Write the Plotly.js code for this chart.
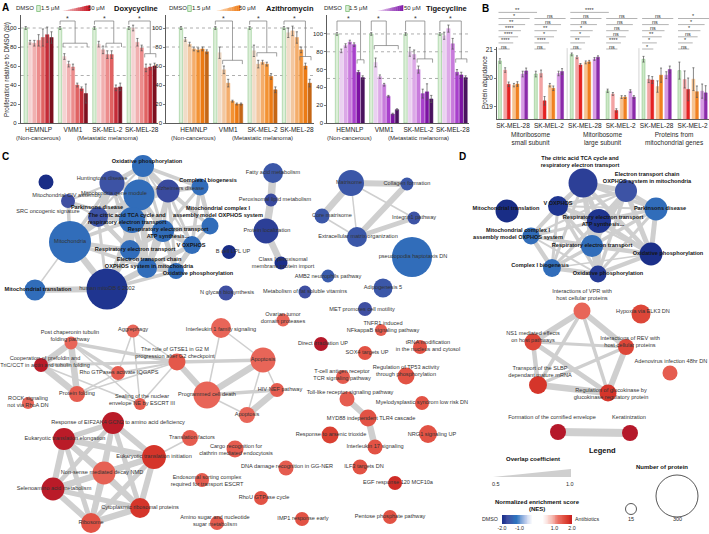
<!DOCTYPE html>
<html>
<head>
<meta charset="utf-8">
<script src="https://cdn.plot.ly/plotly-3.0.1.min.js"></script>
<style>html,body{margin:0;padding:0;background:#fff;}#fig{width:709px;height:534px;}</style>
</head>
<body>
<div id="fig"></div>
<script>
// ================= DATA : panel A =================
const cellLines = ['HEMNLP', 'VMM1', 'SK-MEL-2', 'SK-MEL-28'];
const cellLineGroups = ['(Non-cancerous)', '(Metastatic melanoma)'];
const antibiotics = ['Doxycycline', 'Azithromycin', 'Tigecycline'];
const doseLabels = ['DMSO', '1.5 μM', '50 μM'];
const doxycycline = [[100,85,84,87,90,93,90],[100,70,62,59,40,36,31],[100,83,77,72,72,37,38],[100,100,85,79,58,59,60]];
const doxycyclineErr = [[1.5,2,3,6,9,8,6],[1.5,3,3,3,2,2,10],[1.5,3,4,4,4,3,4],[1.5,3,4,3,4,3,3]];
const azithromycin = [[100,88,83,78,77,78,75],[100,74,56,42,23,20,20],[100,76,62,64,62,49,35],[100,95,97,90,77,60,42]];
const azithromycinErr = [[1.5,2,2,2,2,2,2],[1.5,6,4,4,1,1,1],[1.5,6,4,2,2,3,3],[1.5,5,5,6,3,3,4]];
const tigecycline = [[100,81,87,91,88,57,51],[100,68,52,43,30,10,15],[100,80,77,60,33,35,27],[100,98,106,89,57,54,51]];
const tigecyclineErr = [[1.5,2,2,2,2,2,2],[1.5,5,2,1.5,1,1,1],[1.5,5,5,4,5,9,4],[1.5,4,4,6,3,3,2]];
// significance brackets: [cell line, first bar, last bar, lower bracket level]
const doxycyclineSig = [[1,1,6,84],[2,3,6,84],[3,4,6,73]];
const azithromycinSig = [[1,2,6,66],[2,2,6,74],[3,4,6,70]];
const tigecyclineSig = [[0,5,6,71],[1,1,6,87],[2,3,6,72],[3,4,6,72]];

// ================= DATA : panel B =================
const bCellLines = ['SK-MEL-28','SK-MEL-2','SK-MEL-28','SK-MEL-2','SK-MEL-28','SK-MEL-2'];
const bCategories = ['Mitoribosome<br>small subunit','Mitoribosome<br>large subunit','Proteins from<br>mitochondrial genes'];
const bTreatments = ['DMSO','Doxycycline 1.5 μM','Doxycycline 50 μM','Azithromycin 1.5 μM','Azithromycin 50 μM','Tigecycline 1.5 μM','Tigecycline 50 μM'];
const bAbundance = [[20.6,20.28,19.78,19.75,19.79,20.14,20.25],[20.14,20.16,19.2,19.75,19.64,20.16,20.23],[20.83,20.73,20.46,20.55,20.57,20.67,20.73],[19.55,19.44,18.86,19.33,19.33,19.54,19.33],[20.66,19.96,19.93,19.7,20.1,20.1,20.3],[20.26,19.95,19.6,19.96,19.52,19.54,19.48]];
const bAbundanceErr = [[0.08,0.08,0.08,0.06,0.08,0.1,0.1],[0.1,0.12,0.15,0.06,0.08,0.08,0.1],[0.05,0.05,0.05,0.05,0.05,0.05,0.05],[0.06,0.05,0.06,0.05,0.05,0.05,0.05],[0.1,0.12,0.12,0.2,0.25,0.12,0.12],[0.3,0.3,0.4,0.4,0.2,0.25,0.25]];
const bSignif = [['ns','****','****','****','**','*','**'],['ns','****','*','**','ns','ns'],['ns','**','*','*','ns','ns','****'],['ns','****','ns','ns','ns','ns'],['*','*','**','ns','ns','ns'],['ns','*','ns','*','*','*']];

// ================= DATA : panel C network =================
const cNames = ['Oxidative phosphorylation','Huntingtons disease','Mitochondria gene module','Alzheimers disease','Complex I biogenesis','SRC oncogenic signature','Mitochondrial CIV assembly','Parkinsons disease','The citric acid TCA cycle and<br>respiratory electron transport','Mitochondrial complex I<br>assembly model OXPHOS system','Respiratory electron transport<br>ATP synthesis...','Mitochondria','V OXPHOS','Respiratory electron transport','Electron transport chain<br>OXPHOS system in mitochondria','Oxidative phosphorylation','Mitochondrial translation','human mitoDB 6 2002','Fatty acid metabolism','Peroxisomal lipid metabolism','Protein localization','B cell LPL UP','Class I peroxisomal<br>membrane protein import','N glycan biosynthesis','Metabolism of fat soluble vitamins','AMB2 neutrophils pathway','Matrisome','Core matrisome','Extracellular matrix organization','Collagen formation','Integrin1 pathway','pseudopodia haptotaxis DN','Adipogenesis 5','MET promotes cell motility','Ovarian tumor<br>domain proteases','TNFR1 induced<br>NFkappaB signaling pathway','Post chaperonin tubulin<br>folding pathway','Aggrephagy','Interleukin 1 family signaling','Cooperation of prefoldin and<br>TriC/CCT in actin and tubulin folding','The role of GTSE1 in G2 M<br>progression after G2 checkpoint','Apoptosis','Rho GTPases activate IQGAPS','Protein folding','ROCK signaling<br>not via RhoA DN','Sealing of the nuclear<br>envelope NE by ESCRT III','Programmed cell death','HIV NEF pathway','Apoptosis','Direct irradiation UP','Response of EIF2AK4 GCN2 to amino acid deficiency','Eukaryotic translation elongation','Translation factors','Eukaryotic translation initiation','Cargo recognition for<br>clathrin mediated endocytosis','Non-sense mediated decay NMD','DNA damage recognition in GG-NER','Selenoamino acid metabolism','Endosomal sorting complex<br>required for transport ESCRT','RhoU GTPase cycle','Cytoplasmic ribosomal proteins','Ribosome','Amino sugar and nucleotide<br>sugar metabolism','IMP1 response early','SOX4 targets UP','T-cell antigen receptor<br>TCR signaling pathway','Toll-like receptor signaling pathway','MYD88 independent TLR4 cascade','Response to arsenic trioxide','Interleukin 17 signaling','ILF3 targets DN','EGF response 120 MCF10a','Pentose phosphate pathway','tRNA modification<br>in the nucleus and cytosol','Regulation of TP53 activity<br>through phosphorylation','Myelodysplastic syndrom low risk DN','NRG1 signaling UP'];
const cProteins = [116,144,199,125,70,52,43,98,153,70,116,300,79,98,98,61,107,291,98,33,144,43,33,52,33,33,153,52,98,33,33,282,89,43,33,24,33,33,98,43,70,144,43,61,24,24,162,43,61,43,116,116,61,134,70,125,52,125,43,43,98,98,43,43,43,43,52,70,70,52,52,43,43,43,70,43,79];
const cNES = [-1.3,-1.65,-1.3,-1.75,-1.3,-2.1,-1.7,-1.65,-1.3,-1.3,-1.3,-1.3,-1.3,-1.3,-1.3,-1.3,-1.3,-1.95,-1.6,-1.75,-1.85,-2.1,-2.05,-1.7,-1.7,-1.55,-1.6,-1.6,-1.6,-1.6,-1.65,-1.3,-1.6,-1.7,1.3,1.4,1.3,1.3,1.3,2.1,1.45,1.3,1.4,1.4,1.3,1.4,1.3,1.4,1.3,2.15,2.1,2.1,1.4,1.75,1.4,1.35,1.4,2.1,1.4,1.5,1.75,1.5,1.4,1.5,1.5,1.4,1.4,1.5,1.65,1.5,1.5,1.85,1.5,1.5,1.5,1.5,1.5];
// [from, to, overlap coefficient]
const cEdges = [[0,2,0.9],[0,3,0.85],[0,1,0.75],[0,4,0.7],[0,8,0.7],[0,10,0.65],[0,13,0.65],[0,14,0.7],[0,12,0.6],[0,9,0.6],[0,11,0.6],
[1,2,0.8],[1,3,0.8],[1,7,0.9],[1,8,0.7],[1,11,0.7],[1,13,0.7],[1,6,0.6],
[2,3,0.8],[2,8,0.85],[2,10,0.8],[2,13,0.8],[2,14,0.8],[2,11,0.75],[2,17,0.7],[2,4,0.65],[2,7,0.75],
[3,4,0.75],[3,9,0.7],[3,10,0.7],[3,12,0.65],[3,14,0.7],[3,15,0.65],[3,7,0.8],
[4,9,0.75],[4,12,0.7],[4,10,0.65],[9,12,0.7],[9,10,0.75],[9,15,0.6],
[6,11,0.7],[6,7,0.6],[6,8,0.6],[7,8,0.8],[7,11,0.75],[7,13,0.75],[7,17,0.65],[7,14,0.7],
[8,10,0.8],[8,13,0.85],[8,14,0.8],[8,11,0.7],[8,17,0.7],[10,12,0.8],[10,13,0.8],[10,14,0.85],[10,15,0.8],
[11,13,0.75],[11,14,0.7],[11,17,0.9],[11,16,0.55],[12,15,0.8],[12,14,0.75],[13,14,0.85],[13,15,0.75],[13,17,0.8],
[14,15,0.8],[14,17,0.85],[15,17,0.7],[16,17,0.85],
[18,19,0.95],[19,20,0.95],[20,22,0.9],[26,27,0.9],[26,28,0.55],[27,28,0.55],[26,29,0.85],[28,29,0.85],[28,30,0.8],[26,30,0.55],
[36,39,0.9],[36,43,0.9],[39,43,0.9],[36,42,0.7],[36,40,0.7],[36,45,0.55],[37,42,0.55],[37,45,0.55],[37,40,0.55],[39,40,0.65],[39,45,0.55],[42,43,0.55],[40,43,0.55],[40,45,0.55],[42,40,0.6],
[40,41,0.7],[40,46,0.85],[38,41,0.55],[38,46,0.55],[41,46,0.9],[41,48,0.55],[46,47,0.7],[46,48,0.55],[47,48,0.9],[41,47,0.55],
[50,51,0.8],[50,53,0.85],[50,55,0.8],[50,57,0.75],[50,60,0.8],[50,61,0.8],[51,53,0.85],[51,55,0.85],[51,57,0.85],[51,60,0.8],[51,61,0.8],[53,55,0.9],[53,57,0.8],[53,60,0.85],[53,61,0.8],[55,57,0.9],[55,60,0.85],[55,61,0.85],[57,60,0.8],[57,61,0.85],[60,61,0.9],[53,52,0.55],
[66,67,0.85],[67,69,0.9]];

// ================= DATA : panel D network =================
const dNames = ['The citric acid TCA cycle and<br>respiratory electron transport','Electron transport chain<br>OXPHOS system in mitochondria','Mitochondrial translation','V OXPHOS','Parkinsons disease','Respiratory electron transport<br>ATP synthesis...','Mitochondrial complex I<br>assembly model OXPHOS system','Respiratory electron transport','Oxidative phosphorylation','Complex I biogenesis','Oxidative phosphorylation','Interactions of VPR with<br>host cellular proteins','Hypoxia via ELK3 DN','NS1 mediated effects<br>on host pathways','Interactions of REV with<br>host cellular proteins','Adenovirus infection 48hr DN','Transport of the SLBP<br>dependant mature mRNA','Regulation of glucokinase by<br>glucokinase regulatory protein','Formation of the cornified envelope','Keratinization'];
const dProteins = [180,116,125,98,125,134,70,116,125,79,70,70,89,70,61,52,79,70,61,61];
const dNES = [-1.85,-1.65,-2.1,-1.95,-1.3,-1.95,-1.3,-1.3,-2.05,-1.3,-1.9,1.3,1.6,1.6,1.6,1.4,1.75,1.75,2.15,2.15];
const dEdges = [[0,1,0.8],[0,3,0.75],[0,4,0.7],[0,5,0.8],[0,6,0.65],[0,7,0.8],[0,8,0.75],[0,9,0.65],[0,10,0.75],
[1,3,0.7],[1,4,0.75],[1,5,0.75],[1,7,0.75],[1,8,0.8],[1,10,0.7],[1,6,0.6],[1,9,0.6],
[3,5,0.75],[3,6,0.7],[3,7,0.7],[3,9,0.65],[3,10,0.7],[3,8,0.6],[3,4,0.6],
[4,5,0.7],[4,7,0.7],[4,8,0.8],[4,10,0.65],[5,6,0.65],[5,7,0.8],[5,8,0.75],[5,9,0.65],[5,10,0.8],
[6,7,0.7],[6,9,0.75],[6,10,0.6],[6,8,0.55],[7,8,0.75],[7,9,0.7],[7,10,0.8],[8,10,0.75],[8,9,0.55],[9,10,0.75],
[11,13,0.85],[11,14,0.85],[11,16,0.7],[11,17,0.7],[13,14,0.65],[13,16,0.75],[13,17,0.8],[14,16,0.7],[14,17,0.85],[16,17,0.9],[18,19,1.0]];
const legendProteins = [15, 300];
const legendOverlap = [0.5, 1.0];
const nesTicks = [-2, -1, 1, 2];

// ================= LAYOUT (pixel positions) =================
const W = 709, H = 534;
const PX = v => v / W, PY = v => 1 - v / H;
const cPosX = [143,112,139,168,200,46,68,98,132,210,163,70,192,130,147,176,35,107,273,271,266,229,281,226,305,328,351,322,357,407,414,412,383,365,283,381,71,133,221,41,177,263,118,77,28,140,207,277,247,321,113,64,190,154,235,104,286,53,202,261,140,91,217,302,365,343,347,368,330,375,360,395,390,420,406,422,428];
const cPosY = [166,183,195,191,187,182,201,217,220,226,231,242,245,250,268,271,290,289,173,200,231,252,263,293,292,276,183,216,237,184,218,257,288,309,320,330,343,331,328,365,362,360,373,394,403,404,395,390,415,344,423,439,438,457,449,473,468,489,480,498,508,523,523,519,353,377,399,418,435,447,467,483,517,347,376,403,434];
const cTextX = [147,102,114,180,208,48,67,97,127,218,168,70,191,135,149,198,38,107,273,275,267,233,283,227,305,328,349,332,358,407,414,413,383,362,283,383,70,133,221,45,175,263,119,77,28,142,207,280,247,323,118,65,192,154,236,102,287,54,207,264,140,91,215,303,367,342,350,371,331,375,364,398,390,428,406,422,432];
const cTextY = [162,179,194,189,181,212,196,208,219,212,233,242,246,250,263,274,290,289,173,200,231,252,263,293,292,277,183,216,237,184,218,257,288,310,318,327,336,330,330,362,353,360,373,394,402,400,395,390,415,344,423,439,438,457,450,473,467,489,481,498,508,523,521,519,353,375,393,419,435,447,467,483,517,346,371,403,435];
const cBold = [1,0,0,0,1,0,0,1,1,1,1,0,1,1,1,1,1,0];
const dPosX = [583,626,507,558,656,599,531,592,651,552,598,582,641,533,626,670,538,608,558,630];
const dPosY = [183,191,211,206,209,221,236,246,254,268,274,311,314,342,347,373,385,393,432,433];
const dTextX = [580,647,506,558,660,603,518,592,668,540,608,582,643,533,630,671,540,611,552,629];
const dTextY = [162,178,209,204,209,221,234,246,254,266,274,295,312,337,342,362,372,394,418,418];
const dBold = [1,1,1,1,1,1,1,1,1,1,1];

const FONT = 'Liberation Sans, Arial, Helvetica, sans-serif';
const TXT = '#2a2a2a';
const EDGE = '#cfcfcf';
const dmsoFill = '#dcefd8', dmsoLine = '#7fbf7a';
const rampColors = [['#f8dcdc','#c8101e'],['#fde7cf','#f07a12'],['#f2dcf6','#7c12a8']];
const barPalettes = [
  ['#f5d2d2','#f1b0b0','#ec8c8c','#e06262','#c42c38','#7c0f1f'],
  ['#f1dcc8','#f3c79f','#f4ad6b','#f39234','#ec7b14','#c56716'],
  ['#ebd0f1','#dca8e7','#c87bdc','#a840cc','#7c12a3','#49125e']];
const bFill = ['#cde8c7','#f3a3a3','#e42222','#f6c391','#f08121','#d69ae4','#8b2aaa'];
const nesStops = [[-2.2,'#15277f'],[-1.95,'#1f3590'],[-1.7,'#3f4fa2'],[-1.45,'#3563b2'],[-1.2,'#2e74bf'],[-0.7,'#b8c8ea'],[-0.3,'#ffffff'],[0.3,'#ffffff'],[0.8,'#f6c0b8'],[1.2,'#ea6e62'],[1.45,'#e4584a'],[1.7,'#d83a2c'],[1.95,'#c92222'],[2.2,'#b0162c']];
const nesScale = nesStops.map(([v,c]) => [(v + 2.2) / 4.4, c]);
const sizeOf = n => 9.37 + 0.1088 * n;
const widthOf = ov => 0.6 + (ov - 0.5) / 0.5 * 7.4;

function hex(h){const n=parseInt(h.slice(1),16);return [n>>16&255,n>>8&255,n&255];}
function mix(a,b,t){const A=hex(a),B=hex(b);return 'rgb('+A.map((v,i)=>Math.round(v+(B[i]-v)*t)).join(',')+')';}

const data = [], shapes = [], ann = [];
const txt = (x,y,text,o={}) => ann.push(Object.assign({x:PX(x),y:PY(y),xref:'paper',yref:'paper',xanchor:'center',yanchor:'middle',text,showarrow:false,font:{family:FONT,size:6,color:TXT}},o));

// ---------- Panel A ----------
const aSets = [[doxycycline,doxycyclineErr,doxycyclineSig],[azithromycin,azithromycinErr,azithromycinSig],[tigecycline,tigecyclineErr,tigecyclineSig]];
const aAxes = [{xd:[20.7,158],xr:[-1.17,30.8],yr:[0,113.7]},{xd:[166,314],xr:[-3.5,31.0],yr:[0,113.7]},{xd:[327,469],xr:[-2.33,30.8],yr:[0,121.3]}];
const legendPos = [{dmso:25,box:38.5,low:50,r0:62,r1:90,high:96,name:136},{dmso:178,box:189.5,low:201,r0:216,r1:240,high:247,name:290},{dmso:333,box:347.5,low:358,r0:377,r1:403,high:412,name:446}];
const layout = {width:W,height:H,margin:{l:0,r:0,t:0,b:0},paper_bgcolor:'#fff',plot_bgcolor:'rgba(0,0,0,0)',showlegend:false,hovermode:false,font:{family:FONT,size:6,color:TXT}};

aSets.forEach(([vals,errs,sig],k) => {
  const xa = k===0?'x':'x'+(k+1), ya = k===0?'y':'y'+(k+1);
  const xn = k===0?'xaxis':'xaxis'+(k+1), yn = k===0?'yaxis':'yaxis'+(k+1);
  const ax = aAxes[k];
  const x=[],y=[],e=[],fill=[],line=[];
  vals.forEach((grp,g)=>grp.forEach((v,i)=>{x.push(g*8+i);y.push(v);e.push(errs[g][i]);fill.push(i===0?dmsoFill:barPalettes[k][i-1]);line.push(i===0?dmsoLine:barPalettes[k][i-1]);}));
  data.push({type:'bar',x,y,xaxis:xa,yaxis:ya,width:0.78,marker:{color:fill,line:{color:line,width:0.5}},error_y:{type:'data',array:e,visible:true,thickness:0.7,width:1.1,color:'#555'}});
  layout[xn] = {domain:[PX(ax.xd[0]),PX(ax.xd[1])],range:ax.xr,anchor:ya,showline:true,linecolor:'#333',linewidth:0.8,showgrid:false,zeroline:false,ticks:'',tickvals:cellLines.map((c,g)=>g*8+3),ticktext:cellLines,tickfont:{size:6.5,color:'#222'}};
  layout[yn] = {domain:[PY(123),PY(15)],range:ax.yr,anchor:xa,showline:true,linecolor:'#333',linewidth:0.8,showgrid:false,zeroline:false,ticks:'outside',ticklen:2,tickwidth:0.7,tickvals:[0,20,40,60,80,100],tickfont:{size:6,color:'#222'}};
  [100,80,50].forEach(v=>shapes.push({type:'line',xref:xa+' domain',yref:ya,x0:0,x1:1,y0:v,y1:v,layer:'below',line:{color:'#9a9a9a',width:0.8,dash:'dot'}}));
  const top = ax.yr[1]*(102/108);
  sig.forEach(([g,a,b,lv])=>{
    const x0=g*8, xa0=g*8+a-0.3, xb=g*8+b+0.3, xj=(xa0+xb)/2, tick=ax.yr[1]*0.035;
    shapes.push({type:'path',xref:xa,yref:ya,path:`M${x0},${vals[g][0]+errs[g][0]+2} L${x0},${top} L${xj},${top} L${xj},${lv}`,line:{color:'#777',width:0.7}});
    shapes.push({type:'path',xref:xa,yref:ya,path:`M${xa0},${lv-tick} L${xa0},${lv} L${xb},${lv} L${xb},${lv-tick}`,line:{color:'#777',width:0.7}});
    ann.push({x:(x0+xj)/2,y:top,xref:xa,yref:ya,xanchor:'center',text:'*',showarrow:false,yanchor:'bottom',yshift:-3,font:{family:FONT,size:7,color:'#333'}});
  });
  ann.push({x:3,y:PY(138),xref:xa,yref:'paper',xanchor:'center',yanchor:'middle',text:cellLineGroups[0],showarrow:false,font:{family:FONT,size:6,color:TXT}});
  ann.push({x:19,y:PY(138),xref:xa,yref:'paper',xanchor:'center',yanchor:'middle',text:cellLineGroups[1],showarrow:false,font:{family:FONT,size:6,color:TXT}});
  // header legend
  const L = legendPos[k];
  txt(L.dmso,8.5,doseLabels[0]);
  shapes.push({type:'rect',xref:'paper',yref:'paper',x0:PX(L.box-1.8),x1:PX(L.box+1.8),y0:PY(11.5),y1:PY(5.5),fillcolor:dmsoFill,line:{color:dmsoLine,width:0.8}});
  txt(L.low,8.5,doseLabels[1]);
  const n=14;
  for(let i=0;i<n;i++){
    const xa1=L.r0+(L.r1-L.r0)*i/n, xb1=L.r0+(L.r1-L.r0)*(i+1)/n, ha=6*i/n, hb=6*(i+1)/n;
    shapes.push({type:'path',xref:'paper',yref:'paper',path:`M${PX(xa1)},${PY(11)} L${PX(xb1+0.3)},${PY(11)} L${PX(xb1+0.3)},${PY(11-hb)} L${PX(xa1)},${PY(11-ha)} Z`,fillcolor:mix(rampColors[k][0],rampColors[k][1],(i+0.5)/n),line:{width:0}});
  }
  txt(L.high,8.5,doseLabels[2]);
  txt(L.name,8.5,'<b>'+antibiotics[k]+'</b>',{font:{family:FONT,size:7.5,color:'#111'}});
});
txt(7,70,'Proliferation relative to DMSO (%)',{textangle:-90,font:{family:FONT,size:6.3,color:TXT}});

// ---------- Panel B ----------
const bOffsets = [0,1.5,2.5,4,5,6.5,7.5], bStep = 10.25, bFloor = 18.56;
{
  const x=[],y=[],e=[],fill=[],line=[];
  bAbundance.forEach((grp,g)=>grp.forEach((v,i)=>{x.push(g*bStep+bOffsets[i]);y.push(v-bFloor);e.push(bAbundanceErr[g][i]);fill.push(bFill[i]);line.push(i===0?dmsoLine:bFill[i]);}));
  data.push({type:'bar',x,y,base:bFloor,xaxis:'x4',yaxis:'y4',width:0.85,marker:{color:fill,line:{color:line,width:0.5}},error_y:{type:'data',array:e,visible:true,thickness:0.7,width:1,color:'#555'}});
  layout.xaxis4 = {domain:[PX(497),1],range:[-0.83,59.7],anchor:'y4',showline:true,linecolor:'#333',linewidth:0.8,showgrid:false,zeroline:false,ticks:'',tickvals:bCellLines.map((c,g)=>g*bStep+3.75),ticktext:bCellLines,tickfont:{size:6.5,color:'#222'}};
  layout.yaxis4 = {domain:[PY(119),PY(47)],range:[bFloor,21.09],anchor:'x4',showline:true,linecolor:'#333',linewidth:0.8,showgrid:false,zeroline:false,ticks:'outside',ticklen:2,tickwidth:0.7,tickvals:[19,20,21],tickfont:{size:6.5,color:'#222'}};
  [2,4].forEach(g=>shapes.push({type:'line',xref:'x4',yref:'y4',x0:g*bStep-1.3,x1:g*bStep-1.3,y0:bFloor,y1:21.05,line:{color:'#c8c8c8',width:0.8}}));
  const ends=[2.8,3.8,5.2,6.0,7.2,8.5,10.6];
  bSignif.forEach((labels,g)=>labels.forEach((t,L)=>{
    const x0=g*bStep-0.4, x1=g*bStep+ends[L], yy=49-L*6.1;
    shapes.push({type:'line',xref:'x4',yref:'paper',x0,x1,y0:PY(yy),y1:PY(yy),line:{color:'#a0a0a0',width:0.8}});
    ann.push({x:(x0+x1)/2,y:PY(yy),xref:'x4',yref:'paper',xanchor:'center',text:t,showarrow:false,yanchor:'bottom',yshift:-2.5,font:{family:FONT,size:5.5,color:'#333'}});
  }));
  bCategories.forEach((c,k)=>ann.push({x:k*2*bStep+bStep/2+3.75,y:PY(128.5),xref:'x4',yref:'paper',xanchor:'center',text:c,showarrow:false,yanchor:'top',font:{family:FONT,size:6.5,color:TXT}}));
  txt(484,83,'Protein abundance',{textangle:-90,font:{family:FONT,size:6.3,color:TXT}});
}

// ---------- Panels C & D (network, pixel-coordinate overlay) ----------
layout.xaxis5 = {domain:[0,1],range:[0,W],anchor:'y5',visible:false,fixedrange:true};
layout.yaxis5 = {domain:[0,1],range:[H,0],anchor:'x5',visible:false,fixedrange:true};
const buckets = {};
function addEdges(edges,xs,ys){edges.forEach(([a,b,ov])=>{const w=Math.round(widthOf(ov)*2)/2;if(!buckets[w])buckets[w]={x:[],y:[]};buckets[w].x.push(xs[a],xs[b],null);buckets[w].y.push(ys[a],ys[b],null);});}
addEdges(cEdges,cPosX,cPosY);
addEdges(dEdges,dPosX,dPosY);
Object.keys(buckets).sort((a,b)=>b-a).forEach(w=>data.push({type:'scatter',mode:'lines',x:buckets[w].x,y:buckets[w].y,xaxis:'x5',yaxis:'y5',line:{color:EDGE,width:+w},connectgaps:false}));
function addNodes(names,prot,nes,xs,ys,tx,ty,bold){
  data.push({type:'scatter',mode:'markers',x:xs,y:ys,xaxis:'x5',yaxis:'y5',marker:{size:prot.map(sizeOf),color:nes,colorscale:nesScale,cmin:-2.2,cmax:2.2,line:{width:0},opacity:1}});
  data.push({type:'scatter',mode:'text',x:tx,y:ty,xaxis:'x5',yaxis:'y5',cliponaxis:false,text:names.map((n,i)=>bold[i]?'<b>'+n+'</b>':n),textposition:'middle center',textfont:{family:FONT,size:5.6,color:names.map((n,i)=>bold[i]?'#151515':'#333')}});
}
addNodes(cNames,cProteins,cNES,cPosX,cPosY,cTextX,cTextY,cBold);
addNodes(dNames,dProteins,dNES,dPosX,dPosY,dTextX,dTextY,dBold);

// legend of D
txt(602,450,'<b>Legend</b>',{font:{family:FONT,size:7.5,color:'#111'}});
txt(533,459,'<b>Overlap coefficient</b>',{font:{family:FONT,size:6,color:'#111'}});
shapes.push({type:'path',xref:'x5',yref:'y5',path:`M493,477 L571,${477-widthOf(legendOverlap[1])} L571,477 Z`,fillcolor:EDGE,line:{width:0}});
txt(496,484,legendOverlap[0].toFixed(1),{font:{family:FONT,size:5.5,color:TXT}});
txt(570,484,legendOverlap[1].toFixed(1),{font:{family:FONT,size:5.5,color:TXT}});
txt(662,467,'<b>Number of protein</b>',{font:{family:FONT,size:6,color:'#111'}});
data.push({type:'scatter',mode:'markers',x:[631,677],y:[509,496],xaxis:'x5',yaxis:'y5',marker:{size:legendProteins.map(sizeOf),color:'rgba(255,255,255,0)',line:{color:'#111',width:1}}});
txt(631,519,String(legendProteins[0]),{font:{family:FONT,size:5.5,color:TXT}});
txt(677,519,String(legendProteins[1]),{font:{family:FONT,size:5.5,color:TXT}});
txt(537,502,'<b>Normalized enrichment score</b>',{font:{family:FONT,size:6,color:'#111'}});
txt(537,509,'<b>(NES)</b>',{font:{family:FONT,size:6,color:'#111'}});
txt(490,519,'DMSO',{font:{family:FONT,size:5.3,color:TXT}});
txt(587,519,'Antibiotics',{font:{family:FONT,size:5.3,color:TXT}});
const gx=[]; for(let v=-2;v<=2.0001;v+=0.05) gx.push(+v.toFixed(2));
data.push({type:'heatmap',x:gx,y:[0],z:[gx],xaxis:'x6',yaxis:'y6',colorscale:nesScale,zmin:-2.2,zmax:2.2,showscale:false,zsmooth:'best'});
layout.xaxis6 = {domain:[PX(502),PX(572)],range:[-2,2],anchor:'y6',showgrid:false,zeroline:false,showline:false,ticks:'',tickvals:nesTicks,ticktext:nesTicks.map(v=>v.toFixed(1)),tickfont:{size:5.3,color:TXT}};
layout.yaxis6 = {domain:[PY(524),PY(515)],range:[-0.5,0.5],anchor:'x6',visible:false};

// panel letters
[['A',5,7],['B',485,8],['C',5,157],['D',462,156]].forEach(([t,x,y])=>txt(x,y,'<b>'+t+'</b>',{font:{family:FONT,size:10,color:'#000'}}));

layout.shapes = shapes;
layout.annotations = ann;
Plotly.newPlot('fig', data, layout, {staticPlot:true});
</script>
</body>
</html>
